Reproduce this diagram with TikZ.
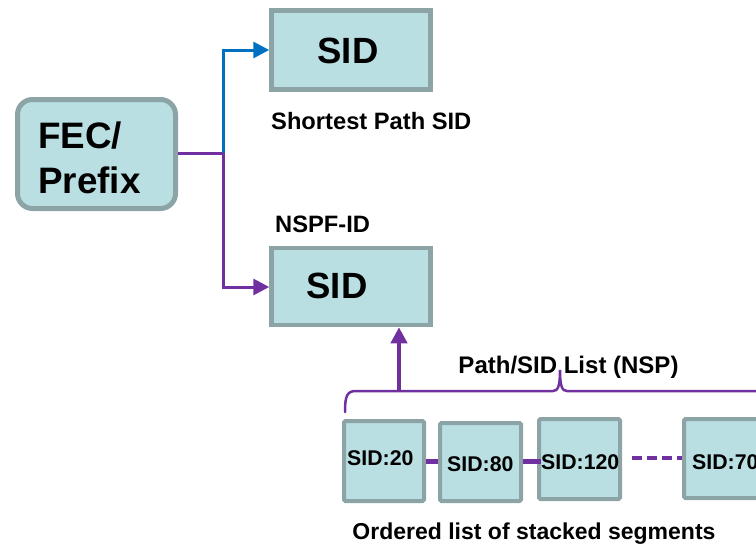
\documentclass[tikz,border=0pt]{standalone}
\usepackage{fontspec}
\setmainfont{Liberation Sans}
\usetikzlibrary{arrows.meta}
\definecolor{boxfill}{HTML}{B9DFE2}
\definecolor{boxline}{HTML}{8DA4A6}
\definecolor{purp}{HTML}{7030A0}
\definecolor{blu}{HTML}{0070C0}
\tikzset{
  sidbox/.style={draw=boxline, fill=boxfill, line width=4.5pt, inner sep=0pt},
  smallbox/.style={draw=boxline, fill=boxfill, line width=4pt, rounded corners=1.5pt, inner sep=0pt},
  lbl/.style={font=\bfseries\fontsize{23.7}{27}\selectfont, inner sep=0pt, anchor=base west},
  biglbl/.style={font=\bfseries\fontsize{36.5}{42}\selectfont, inner sep=0pt, anchor=base},
  segtxt/.style={font=\bfseries\fontsize{21.3}{25}\selectfont, inner sep=0pt, anchor=base west},
  pline/.style={draw=purp, line width=3pt},
}
\begin{document}
\begin{tikzpicture}[x=1pt,y=-1pt]
\useasboundingbox (0,0) rectangle (756,544);
% FEC/Prefix box
\node[draw=boxline, fill=boxfill, line width=5pt, rounded corners=15pt, minimum width=158pt, minimum height=109pt, inner sep=0pt] (fec) at (96.5,154) {};
\node[font=\bfseries\fontsize{36.8}{42}\selectfont, inner sep=0pt, anchor=base west] (fect) at (38,148) {FEC/};
\node[font=\bfseries\fontsize{36.8}{42}\selectfont, inner sep=0pt, anchor=base west] (pret) at (38,193) {Prefix};
% SID boxes
\node[sidbox, minimum width=159pt, minimum height=79pt] (sid1) at (351,50) {};
\node[biglbl] (sid1t) at (348,63) {SID};
\node[sidbox, minimum width=159pt, minimum height=77pt] (sid2) at (351,286.5) {};
\node[biglbl] (sid2t) at (337,298) {SID};
% labels
\node[lbl] (spl) at (271,129) {Shortest Path SID};
\node[lbl] (nspf) at (275,232) {NSPF-ID};
\node[lbl, anchor=base, font=\bfseries\fontsize{24}{27}\selectfont] (psl) at (568.5,373) {Path/SID List (NSP)};
\node[lbl, anchor=base, font=\bfseries\fontsize{23}{27}\selectfont] (ord) at (534,539) {Ordered list of stacked segments};
% connectors from FEC
\coordinate (j) at (223,153);
\coordinate (ju) at (223,50);
\coordinate (jd) at (223,287);
\draw[draw=blu, line width=3pt, -{Triangle[length=16pt,width=16pt]}] (j) -- (ju) -- (sid1.west |- ju);
\draw[pline] (fec.east |- j) -- (j);
\draw[pline, -{Triangle[length=16pt,width=16pt]}] (j) -- (jd) -- (sid2.west |- jd);
% segment boxes
\node[smallbox, minimum width=80pt, minimum height=80pt] (s20) at (384,461) {};
\node[smallbox, minimum width=81pt, minimum height=78pt] (s80) at (480.5,462) {};
\node[smallbox, minimum width=81pt, minimum height=80pt] (s120) at (579.5,459) {};
\node[smallbox, minimum width=90pt, minimum height=79pt, anchor=west] (s70) at (682,458.5) {};
\node[segtxt] (t20) at (347,465) {SID:20};
\node[segtxt] (t80) at (447,471) {SID:80};
\node[segtxt] (t120) at (541,469) {SID:120};
\node[segtxt] (t70) at (692,469) {SID:70};
\draw[draw=purp, line width=5pt] (s20.east |- 0,461) -- (s80.west |- 0,461);
\draw[draw=purp, line width=5pt] (s80.east |- 0,461) -- (t120.west |- 0,461);
\draw[draw=purp, line width=3.5pt, dash pattern=on 10pt off 5pt] (s120.east |- 0,458) ++(10,0) -- (s70.west |- 0,458);
% brace
\coordinate (bl) at (345,412);
\coordinate (btip) at (560,370);
\coordinate (br) at (760,391);
\draw[draw=purp, line width=2.5pt, line cap=round] (bl) .. controls (345,396) and (347,391) .. (356,391) -- (553,391) .. controls (558,391) and (560,386) .. (btip) .. controls (560,386) and (562,391) .. (567,391) -- (br);
% up arrow
\coordinate (ab) at (399,392);
\draw[draw=purp, line width=4pt, -{Triangle[length=16pt,width=16pt]}] (ab) -- (ab |- sid2.south);
\end{tikzpicture}
\end{document}
